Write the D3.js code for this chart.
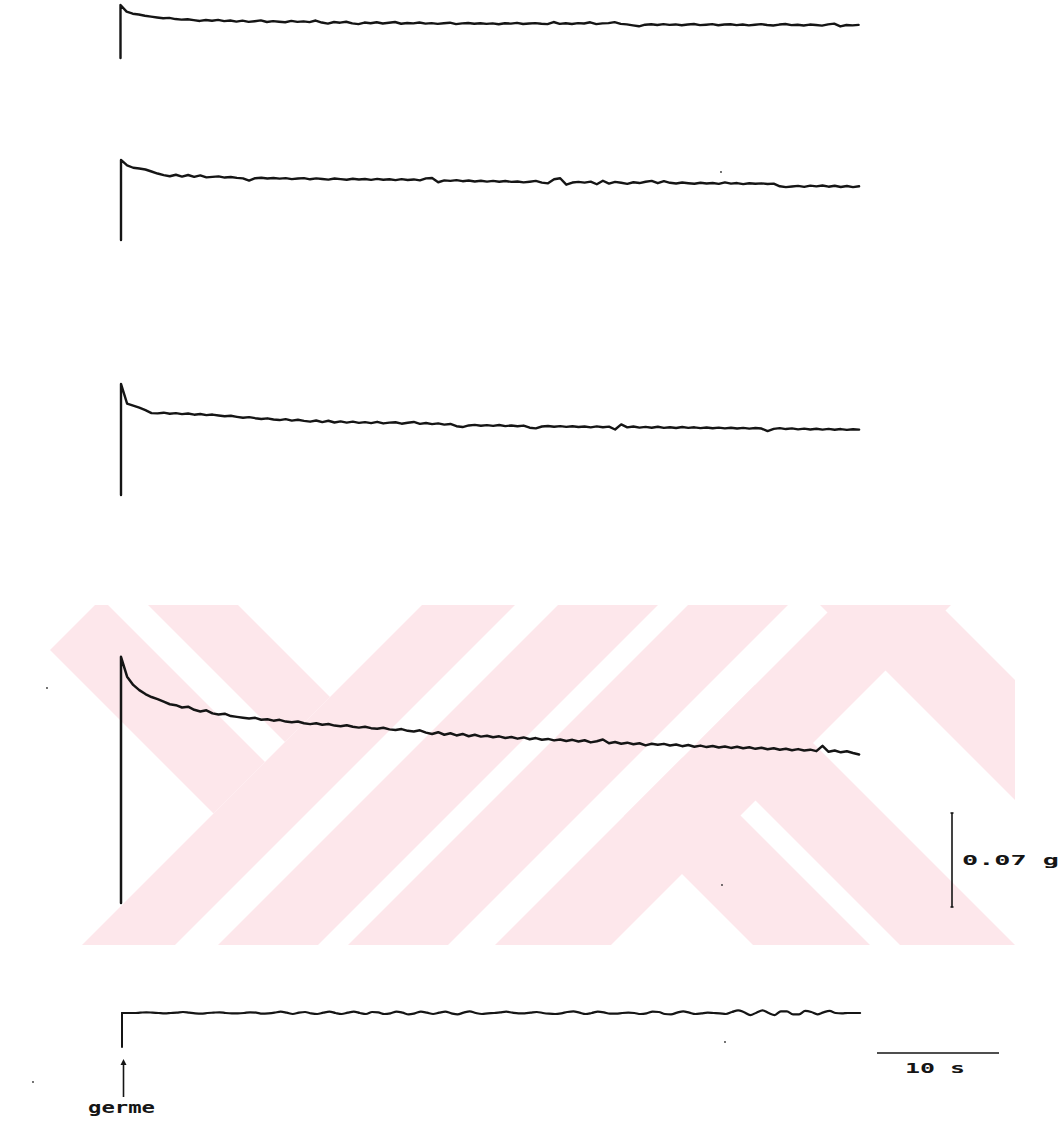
<!DOCTYPE html>
<html>
<head>
<meta charset="utf-8">
<script src="https://cdn.jsdelivr.net/npm/d3@7/dist/d3.min.js"></script>
<style>
  html, body { margin: 0; padding: 0; background: #fff; }
  svg { display: block; }
  .lbl { font-family: "DejaVu Sans Mono", monospace; font-weight: bold; fill: #151515; }
</style>
</head>
<body>
<script>
// Isometric force recordings (mg above resting tension), sampled every 0.5 s
const sampleStep = 0.5;

const forceA = [39.5,34.5,33.0,32.4,31.5,30.8,30.2,29.6,29.9,29.0,28.6,28.9,28.2,27.6,28.3,27.7,28.4,27.5,27.9,27.1,
  27.8,26.9,27.4,28.0,26.8,27.5,27.0,26.6,27.6,26.9,27.3,26.7,27.9,26.4,25.6,26.8,26.3,27.0,25.8,25.2,
  26.4,25.9,26.6,25.7,26.2,26.8,25.5,26.1,25.8,26.4,25.6,26.0,25.4,25.9,26.3,25.2,25.8,26.1,25.5,25.9,
  25.4,25.8,25.1,25.9,25.6,26.2,25.3,25.7,26.0,25.5,25.2,26.8,25.4,25.9,25.3,26.0,25.7,26.6,25.2,25.8,
  26.0,26.7,25.4,25.0,24.3,23.6,24.8,25.1,24.6,25.2,24.7,25.0,24.4,24.9,25.3,24.5,24.8,25.2,24.4,24.9,
  25.1,24.5,24.9,24.3,24.8,25.2,24.6,24.2,24.9,25.3,24.5,24.8,24.2,24.9,24.6,24.1,25.0,25.6,23.5,24.6,
  24.3,24.7];

const forceB = [59.6,55.6,53.8,53.2,52.5,51.0,49.5,48.3,47.5,48.6,47.2,48.4,47.0,48.1,46.6,47.0,47.4,46.5,46.9,46.3,
  45.9,44.2,46.0,46.4,45.8,46.2,45.7,46.1,45.3,45.8,46.1,45.2,45.9,45.4,45.0,45.8,45.3,44.9,45.6,45.1,
  45.4,44.8,45.5,44.9,45.2,44.6,45.3,44.7,45.1,44.4,45.9,46.2,43.0,44.4,44.0,44.6,43.8,44.3,43.6,44.1,
  43.5,44.0,43.4,43.9,43.3,43.6,42.9,43.4,44.0,42.7,42.2,45.2,46.0,41.2,42.8,43.3,42.7,43.5,41.5,44.1,
  42.0,43.3,42.6,41.8,43.0,42.4,43.4,44.0,42.3,43.8,42.6,42.1,42.8,42.3,41.9,42.6,42.1,42.4,41.8,42.9,
  42.0,42.4,41.6,42.3,41.9,42.2,41.7,42.0,40.0,39.4,39.8,40.3,39.6,40.5,39.9,40.6,39.7,40.4,39.5,40.2,
  39.4,40.0];

const forceC = [82.7,68.0,66.5,65.0,63.2,61.0,60.8,61.3,60.5,61.0,60.2,60.7,59.8,60.3,59.5,59.9,59.2,58.6,59.0,58.2,
  57.5,58.0,57.2,56.6,57.1,56.2,55.8,56.5,55.4,56.0,55.2,54.6,55.5,54.3,55.3,54.0,54.8,53.9,54.6,53.7,
  54.3,53.5,54.5,53.3,53.9,54.2,53.1,53.8,54.4,53.0,53.6,52.8,53.3,52.4,52.9,51.2,50.6,51.8,52.2,51.6,
  52.0,51.5,52.1,51.3,51.8,51.2,51.7,50.1,49.6,51.0,51.4,50.8,51.3,50.7,51.2,50.6,51.0,50.4,51.1,50.5,
  50.9,48.8,52.6,50.4,51.0,50.2,50.7,50.1,50.8,50.0,50.5,49.9,50.6,50.0,50.4,49.8,50.3,49.7,50.2,49.6,
  50.1,49.5,50.0,49.4,49.9,49.5,47.6,49.2,49.8,49.1,49.6,48.9,49.4,48.8,49.3,48.7,49.2,48.6,49.1,48.5,
  49.0,48.7];

const forceD = [183.3,168.5,162.4,158.5,155.6,153.4,151.8,149.9,148.0,147.3,145.6,146.2,143.9,142.6,143.5,141.2,140.4,141.0,139.2,138.6,
  138.0,137.4,137.9,136.5,136.9,135.8,136.4,135.1,134.6,135.2,133.9,133.2,133.8,132.7,133.3,132.1,131.6,132.4,131.2,130.6,
  131.3,130.2,129.7,130.5,129.3,128.8,129.5,128.2,127.7,128.6,126.9,125.8,127.2,125.3,126.4,124.8,125.9,124.2,125.3,123.9,
  124.6,123.4,124.1,122.9,123.6,122.4,123.3,121.9,122.8,121.6,122.2,121.1,121.8,120.7,121.5,120.3,121.2,119.6,120.5,121.8,
  119.0,119.9,118.6,119.4,118.2,119.0,117.4,118.6,117.9,118.5,117.3,118.0,116.8,117.6,116.4,117.2,116.1,116.9,115.8,116.6,
  115.5,116.3,115.2,116.0,114.8,115.6,114.5,115.3,114.1,114.9,113.8,114.6,113.5,114.2,113.1,117.0,112.6,113.6,112.2,113.0,
  111.7,110.6];

// Stimulus marker channel (0 = off, 1 = on), same sampling
const stimulus = [1.00,1.00,1.00,1.01,1.02,1.01,1.00,0.99,1.00,1.01,1.03,1.01,0.99,0.98,1.00,1.01,1.02,1.00,0.99,0.99,
  1.00,1.02,1.01,0.98,0.99,1.01,1.04,1.01,0.97,1.01,1.03,0.99,0.97,1.01,1.04,1.00,0.97,1.01,1.04,1.00,
  0.97,1.03,1.02,0.97,0.99,1.04,1.01,0.96,0.99,1.04,1.01,0.97,1.01,1.04,0.99,0.96,1.01,1.05,1.00,0.97,
  0.99,1.00,1.02,1.04,1.01,0.99,0.99,1.01,1.03,1.00,0.98,0.97,0.99,1.03,1.05,1.01,0.97,1.00,1.04,1.02,
  0.98,0.98,1.00,1.01,1.00,0.97,0.99,1.04,1.03,0.97,0.96,1.01,1.05,1.01,0.97,0.99,1.01,1.00,0.99,0.97,
  1.03,1.08,1.02,0.94,1.01,1.08,1.00,0.94,1.05,1.05,0.96,0.96,1.06,1.03,0.96,1.02,1.06,1.00,0.99,1.00,
  1.00,1.00];

// Calibration bars
const forceCal = 70;   // mg  -> "0.07 g"
const timeCal = 10;    // s   -> "10 s"
const forceCalLabel = "0.07 g";
const timeCalLabel = "10 s";
const stimLabel = "germe";

// Background emblem: "/" bands by x+y range, "\" bands by x-y range (limited to an x+y range)
const slashBands = [[1027, 1120], [1163, 1263], [1293, 1393], [1440, 1556]];
const backslashBands = [
  { c: [-600, -497], s: [700, 1027] },
  { c: [-457, -367], s: [700, 1027] },
  { c: [-192, -75], s: [1440, 3000] },
  { c: [-45, 70], s: [1440, 3000] },
  { c: [215, 335], s: [0, 3000] }
];

// Stray pen specks on the chart paper
const specks = [[721, 172], [722, 885], [725, 1042], [47, 688], [33, 1082]];

const W = 1064, H = 1123;
const svg = d3.select("body").append("svg").attr("width", W).attr("height", H);

// ---- emblem ----
const emb = { x0: 40, x1: 1015, y0: 605, y1: 945 };
svg.append("clipPath").attr("id", "embClip").append("rect")
  .attr("x", emb.x0).attr("y", emb.y0).attr("width", emb.x1 - emb.x0).attr("height", emb.y1 - emb.y0);
const gEmb = svg.append("g").attr("clip-path", "url(#embClip)").attr("fill", "#fde7eb");
const corner = (s, c) => [(s + c) / 2, (s - c) / 2];
slashBands.forEach(([s1, s2]) => {
  const pts = [[s1 - emb.y0, emb.y0], [s2 - emb.y0, emb.y0], [s2 - emb.y1, emb.y1], [s1 - emb.y1, emb.y1]];
  gEmb.append("polygon").attr("points", pts.map(p => p.join(",")).join(" "));
});
backslashBands.forEach(b => {
  const pts = [corner(b.s[0], b.c[0]), corner(b.s[0], b.c[1]), corner(b.s[1], b.c[1]), corner(b.s[1], b.c[0])];
  gEmb.append("polygon").attr("points", pts.map(p => p.join(",")).join(" "));
});

const ink = "#151515";
const t0 = 121, pxPerSec = 12.2;
const x = d3.scaleLinear().domain([0, 61]).range([t0, t0 + 61 * pxPerSec]);
const mgPx = 94; // height of 70 mg
const forceScale = base => d3.scaleLinear().domain([0, forceCal]).range([base, base - mgPx]);

const gTraces = svg.append("g").attr("fill", "none").attr("stroke", ink)
  .attr("stroke-linejoin", "round").attr("stroke-linecap", "round");

function drawTrace(values, base, xShift, width) {
  const y = forceScale(base);
  const pts = [[0, 0]].concat(values.map((v, i) => [i * sampleStep, v]));
  const line = d3.line().x(d => x(d[0]) + xShift).y(d => y(d[1]));
  gTraces.append("path").attr("d", line(pts)).attr("stroke-width", width);
}

drawTrace(forceA, 58, -0.5, 2.4);
drawTrace(forceB, 240, 0, 2.4);
drawTrace(forceC, 495, 0, 2.4);
drawTrace(forceD, 903, 0, 2.5);

// Stimulus channel: step, then the marker line
{
  const y = d3.scaleLinear().domain([0, 1]).range([1047, 1013]);
  gTraces.append("line").attr("x1", x(0) + 1).attr("x2", x(0) + 1).attr("y1", y(0)).attr("y2", y(stimulus[0]))
    .attr("stroke-width", 2);
  const pts = stimulus.map((v, i) => [i * sampleStep, v]);
  const line = d3.line().x(d => x(d[0]) + 1).y(d => y(d[1])).curve(d3.curveMonotoneX);
  gTraces.append("path").attr("d", line(pts)).attr("stroke-width", 2.2);
}

// Specks
svg.append("g").selectAll("circle").data(specks).join("circle")
  .attr("cx", d => d[0]).attr("cy", d => d[1]).attr("r", 0.9).attr("fill", "#333");

// Stimulus arrow + label
svg.append("line").attr("x1", 123.5).attr("x2", 123.5).attr("y1", 1097).attr("y2", 1062)
  .attr("stroke", ink).attr("stroke-width", 1.6);
svg.append("path").attr("d", "M120.5,1065 L123.5,1059 L126.5,1065 Z").attr("fill", ink);
svg.append("text").attr("class", "lbl").attr("x", 88).attr("y", 1113)
  .attr("font-size", 15).attr("textLength", 67).attr("lengthAdjust", "spacingAndGlyphs")
  .text(stimLabel);

// Force calibration bar
{
  const y = forceScale(907);
  const bx = 952;
  svg.append("line").attr("x1", bx).attr("x2", bx).attr("y1", y(0)).attr("y2", y(forceCal))
    .attr("stroke", ink).attr("stroke-width", 1.6);
  [0, forceCal].forEach(v => svg.append("line").attr("x1", bx - 1.5).attr("x2", bx + 1.5)
    .attr("y1", y(v)).attr("y2", y(v)).attr("stroke", ink).attr("stroke-width", 1.6));
  svg.append("text").attr("class", "lbl").attr("x", 962).attr("y", y(forceCal / 2) + 5)
    .attr("font-size", 14).attr("textLength", 97).attr("lengthAdjust", "spacingAndGlyphs")
    .text(forceCalLabel);
}

// Time calibration bar
{
  const xs = d3.scaleLinear().domain([0, timeCal]).range([877, 877 + timeCal * pxPerSec]);
  svg.append("line").attr("x1", xs(0)).attr("x2", xs(timeCal)).attr("y1", 1053).attr("y2", 1053)
    .attr("stroke", ink).attr("stroke-width", 1.6);
  svg.append("text").attr("class", "lbl").attr("x", 905).attr("y", 1073)
    .attr("font-size", 14).attr("textLength", 60).attr("lengthAdjust", "spacingAndGlyphs")
    .text(timeCalLabel);
}
</script>
</body>
</html>
